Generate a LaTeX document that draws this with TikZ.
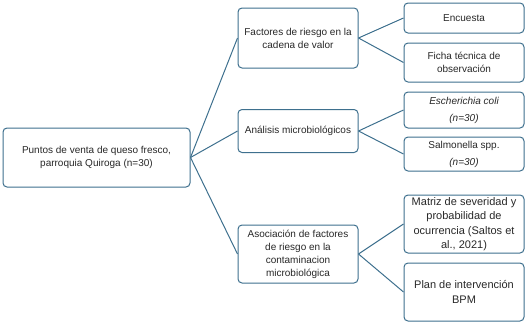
\documentclass[tikz,border=0pt]{standalone}
\usepackage{fontspec}
\setmainfont{Liberation Sans}
\definecolor{edge}{RGB}{62,112,142}
\definecolor{txt}{RGB}{40,40,40}
\tikzset{
  box/.style={draw=edge, line width=1pt, rounded corners=4pt, fill=white, align=center,
    text=txt, inner sep=2pt, font=\fontsize{10}{13}\selectfont},
  bigbox/.style={box, font=\fontsize{11}{14.5}\selectfont},
  link/.style={draw=edge, line width=1pt}
}
\begin{document}
\begin{tikzpicture}[x=1pt,y=-1pt]
\useasboundingbox (0,0) rectangle (529,327);
\node[box, minimum width=187pt, minimum height=59pt] (root) at (96.5,157.5)
  {Puntos de venta de queso fresco,\\parroquia Quiroga (n=30)};
\node[box, minimum width=120pt, minimum height=60pt] (fr) at (298,38)
  {Factores de riesgo en la\\cadena de valor};
\node[box, minimum width=120pt, minimum height=43pt] (am) at (298,131)
  {Análisis microbiológicos};
\node[box, minimum width=120pt, minimum height=58pt] (as) at (298,254)
  {Asociación de factores\\de riesgo en la\\contaminacion\\microbiológica};
\node[box, minimum width=120pt, minimum height=30pt] (en) at (464,18)
  {Encuesta};
\node[box, minimum width=120pt, minimum height=39pt] (fi) at (464,62.5)
  {Ficha técnica de\\observación};
\node[box, minimum width=120pt, minimum height=36pt, font=\fontsize{10}{17}\selectfont] (ec) at (464,110)
  {\itshape Escherichia coli\\\itshape (n=30)};
\node[box, minimum width=120pt, minimum height=34pt, font=\fontsize{10}{17}\selectfont] (sa) at (464,154)
  {Salmonella spp.\\\itshape (n=30)};
\node[bigbox, minimum width=120pt, minimum height=58pt] (ma) at (464,224)
  {Matriz de severidad y\\probabilidad de\\ocurrencia (Saltos et\\al., 2021)};
\node[bigbox, minimum width=120pt, minimum height=58pt] (pl) at (464,292)
  {Plan de intervención\\BPM};
\draw[link] (root.east) -- (fr.west);
\draw[link] (root.east) -- (am.west);
\draw[link] (root.east) -- (as.west);
\draw[link] (fr.east) -- (en.west);
\draw[link] (fr.east) -- (fi.west);
\draw[link] (am.east) -- (ec.west);
\draw[link] (am.east) -- (sa.west);
\draw[link] (as.east) -- (ma.west);
\draw[link] (as.east) -- (pl.west);
\end{tikzpicture}
\end{document}
